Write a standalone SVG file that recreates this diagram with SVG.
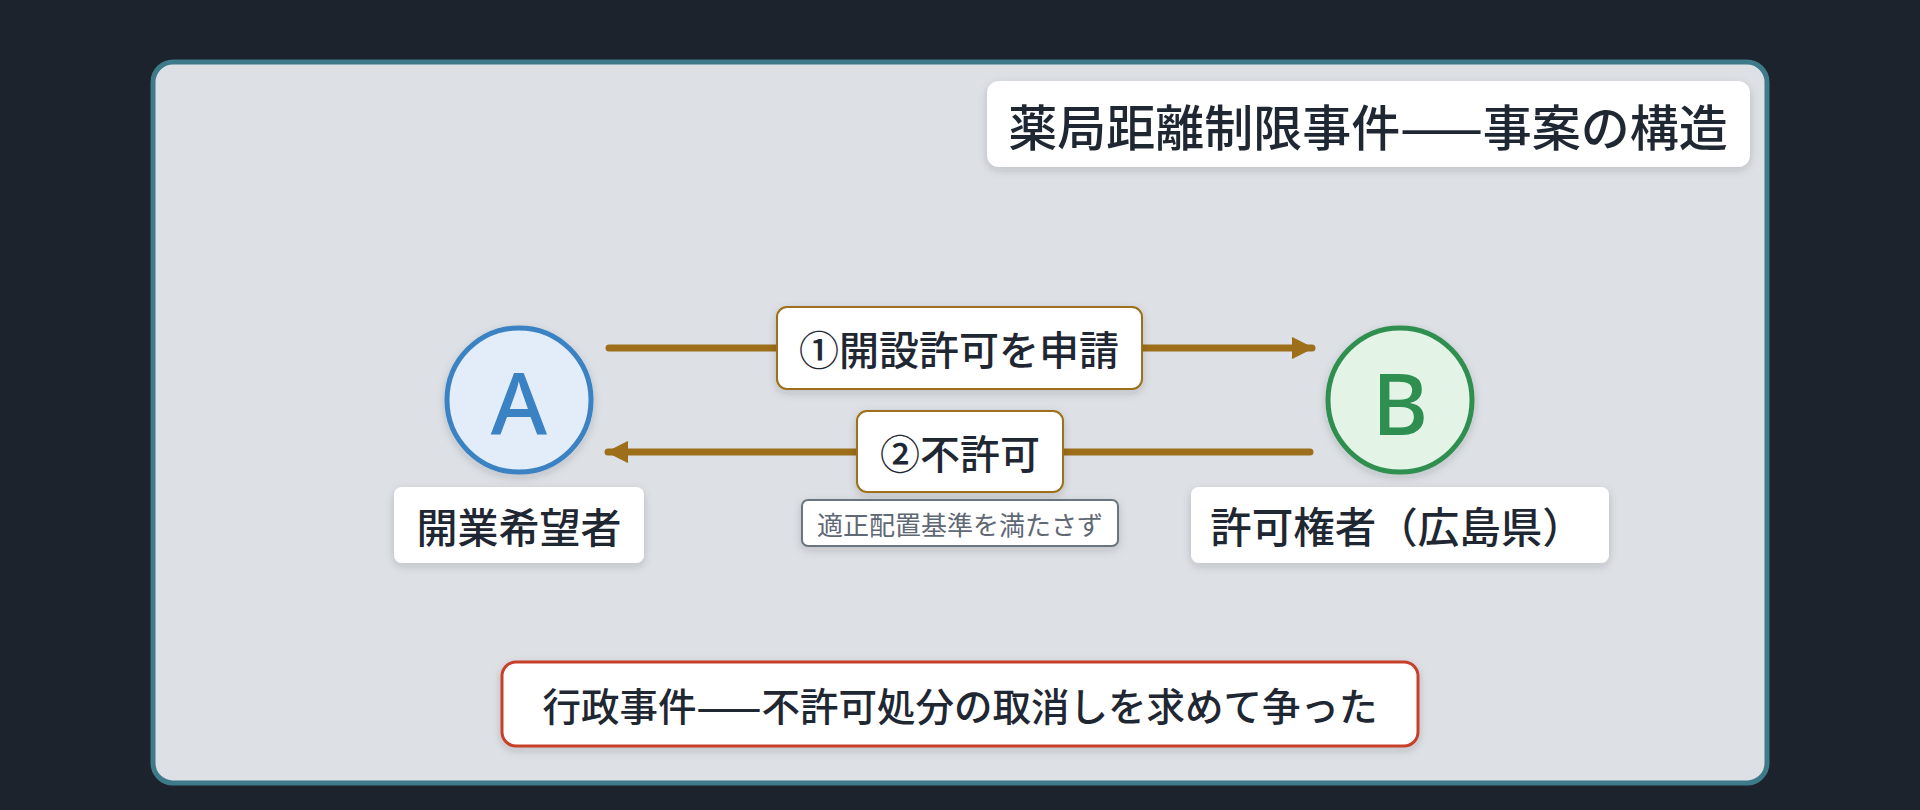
<svg xmlns="http://www.w3.org/2000/svg" width="1920" height="810" viewBox="0 0 1920 810">
<defs>
<filter id="sh" x="-10%" y="-20%" width="120%" height="150%">
<feDropShadow dx="0" dy="3" stdDeviation="4" flood-color="#1c232d" flood-opacity="0.18"/>
</filter>
<marker id="ah" viewBox="0 0 10 10" refX="9" refY="5" markerWidth="3.2" markerHeight="3.2" orient="auto-start-reverse" markerUnits="strokeWidth">
<path d="M0,0 L10,5 L0,10 Z" fill="#9e6f1a"/>
</marker>
<style>
.t{font-family:"Noto Sans CJK JP","Noto Sans",sans-serif;fill:#1f2733;font-weight:500;text-anchor:middle;dominant-baseline:central}
.letter{font-family:"Noto Sans","DejaVu Sans",sans-serif;font-weight:500;text-anchor:middle;dominant-baseline:central}
.box{fill:#ffffff;filter:url(#sh)}
.conn{stroke:#9e6f1a;stroke-width:7;stroke-linecap:round;fill:none}
</style>
</defs>
<rect x="0" y="0" width="1920" height="810" fill="#1c232d"/>
<rect x="153" y="62" width="1614" height="721" rx="20" fill="#dde1e6" stroke="#3d7a8a" stroke-width="5"/>
<g id="title">
<rect class="box" x="987" y="81" width="763" height="86" rx="12"/>
<text class="t" x="1368" y="124" font-size="49">薬局距離制限事件——事案の構造</text>
</g>
<g id="connectors">
<line class="conn" x1="609" y1="348" x2="1312" y2="348" marker-end="url(#ah)"/>
<line class="conn" x1="1310" y1="452" x2="608" y2="452" marker-end="url(#ah)"/>
</g>
<g id="label-apply">
<rect class="box" x="777" y="307" width="365" height="82" rx="10" stroke="#9e6f1a" stroke-width="2"/>
<text class="t" x="959" y="348" font-size="40">①開設許可を申請</text>
</g>
<g id="label-deny">
<rect class="box" x="857" y="411" width="206" height="81" rx="10" stroke="#9e6f1a" stroke-width="2"/>
<text class="t" x="960" y="452" font-size="40">②不許可</text>
</g>
<g id="note-deny">
<rect class="box" x="802" y="500" width="316" height="46" rx="6" stroke="#6b7480" stroke-width="2"/>
<text class="t" x="960" y="523" font-size="26" style="fill:#5f6875;font-weight:400">適正配置基準を満たさず</text>
</g>
<g id="node-a">
<circle cx="519" cy="400" r="72" fill="#e3edf9" stroke="#3a82c4" stroke-width="5" filter="url(#sh)"/>
<text class="letter" x="519" y="401" font-size="86" fill="#3a82c4">A</text>
</g>
<g id="label-a">
<rect class="box" x="394" y="487" width="250" height="76" rx="8"/>
<text class="t" x="519" y="525" font-size="41">開業希望者</text>
</g>
<g id="node-b">
<circle cx="1400" cy="400" r="72" fill="#e3f4e7" stroke="#2e8f50" stroke-width="5" filter="url(#sh)"/>
<text class="letter" x="1400" y="401" font-size="86" fill="#2e8f50">B</text>
</g>
<g id="label-b">
<rect class="box" x="1191" y="487" width="418" height="76" rx="8"/>
<text class="t" x="1397" y="525" font-size="41.5">許可権者（広島県）</text>
</g>
<g id="summary">
<rect class="box" x="502" y="662" width="916" height="84" rx="14" stroke="#c8402a" stroke-width="3"/>
<text class="t" x="960" y="704" font-size="38.5">行政事件——不許可処分の取消しを求めて争った</text>
</g>
</svg>
